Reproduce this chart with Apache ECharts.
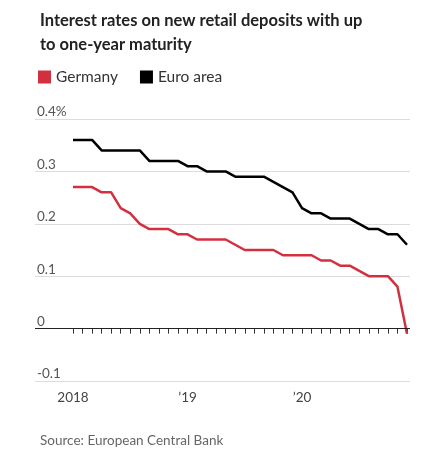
<!DOCTYPE html>
<html>
<head>
<meta charset="utf-8">
<script src="https://cdn.jsdelivr.net/npm/echarts@6/dist/echarts.min.js"></script>
<style>
  html, body { margin: 0; padding: 0; background: #fff; }
  #chart { width: 429px; height: 465px; }
</style>
</head>
<body>
<div id="chart"></div>
<script>
// monthly, Jan 2018 .. Dec 2020
const months = [];
for (let y = 2018; y <= 2020; y++) for (let m = 1; m <= 12; m++) months.push(y + '-' + m);
const yearLabels = { '2018-1': '2018', '2019-1': '\u201919', '2020-1': '\u201920' };

const germany = [0.27, 0.27, 0.27, 0.26, 0.26, 0.23, 0.22, 0.20, 0.19, 0.19, 0.19, 0.18,
                 0.18, 0.17, 0.17, 0.17, 0.17, 0.16, 0.15, 0.15, 0.15, 0.15, 0.14, 0.14,
                 0.14, 0.14, 0.13, 0.13, 0.12, 0.12, 0.11, 0.10, 0.10, 0.10, 0.08, -0.01];
const euroArea = [0.36, 0.36, 0.36, 0.34, 0.34, 0.34, 0.34, 0.34, 0.32, 0.32, 0.32, 0.32,
                  0.31, 0.31, 0.30, 0.30, 0.30, 0.29, 0.29, 0.29, 0.29, 0.28, 0.27, 0.26,
                  0.23, 0.22, 0.22, 0.21, 0.21, 0.21, 0.20, 0.19, 0.19, 0.18, 0.18, 0.16];

const chart = echarts.init(document.getElementById('chart'));
const font = 'Lato, "Open Sans", sans-serif';

chart.setOption({
    animation: false,
    textStyle: { fontFamily: font },
    title: [{
        text: 'Interest rates on new retail deposits with up\nto one-year maturity',
        left: 35, top: 4,
        textStyle: { fontSize: 16.5, fontWeight: 'bold', color: '#222', lineHeight: 24 }
    }, {
        text: 'Source: European Central Bank',
        left: 35, top: 429,
        textStyle: { fontSize: 13.5, fontWeight: 'normal', color: '#666' }
    }],
    legend: {
        left: 33, top: 64, itemWidth: 13, itemHeight: 13, itemGap: 22,
        icon: 'rect',
        textStyle: { fontSize: 15.5, color: '#333' },
        data: ['Germany', 'Euro area']
    },
    grid: [
        { left: 35, right: 19, top: 119, bottom: 84 },
        { left: 73, right: 22, top: 119, bottom: 84 }
    ],
    xAxis: [{
        gridIndex: 0, type: 'category', data: months, show: false
    }, {
        gridIndex: 1, type: 'category', data: months, boundaryGap: false,
        axisLine: { show: false },
        axisTick: { show: true, alignWithLabel: true, interval: 0, length: 5, lineStyle: { color: '#333' } },
        axisLabel: {
            interval: 0, margin: 10, fontSize: 13.5, color: '#444',
            formatter: v => yearLabels[v] || ''
        }
    }],
    yAxis: [{
        gridIndex: 0, type: 'value', min: -0.1, max: 0.4, interval: 0.1,
        axisLine: { show: false }, axisTick: { show: false },
        splitLine: { lineStyle: { color: '#dcdcdc', width: 1 } },
        axisLabel: {
            inside: true, verticalAlign: 'bottom', margin: 2, fontSize: 13.5, color: '#555',
            formatter: v => {
                const r = Math.round(v * 10) / 10;
                if (r === 0.4) return '0.4%';
                return r === 0 ? '0' : String(r);
            }
        }
    }, {
        gridIndex: 1, type: 'value', min: -0.1, max: 0.4, interval: 0.1, show: false
    }],
    series: [{
        name: 'Germany', type: 'line', xAxisIndex: 1, yAxisIndex: 1,
        data: germany, showSymbol: false, color: '#d3303f',
        lineStyle: { width: 2.5 }, z: 4
    }, {
        name: 'Euro area', type: 'line', xAxisIndex: 1, yAxisIndex: 1,
        data: euroArea, showSymbol: false, color: '#000',
        lineStyle: { width: 2.5 }, z: 4
    }, {
        name: 'zero', type: 'line', xAxisIndex: 0, yAxisIndex: 0,
        data: [], markLine: {
            silent: true, symbol: 'none', label: { show: false },
            lineStyle: { color: '#222', width: 1, type: 'solid' },
            data: [{ yAxis: 0 }]
        }, z: 3
    }]
});
</script>
</body>
</html>
